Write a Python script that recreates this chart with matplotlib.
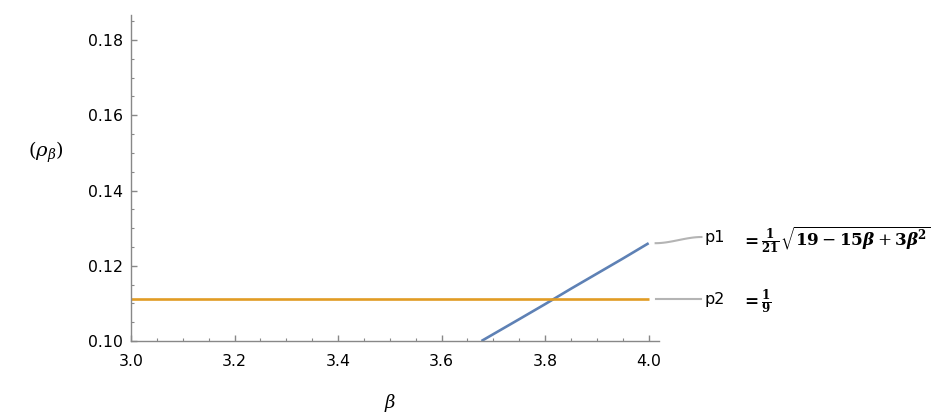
import numpy as np
import matplotlib
matplotlib.use("Agg")
import matplotlib.pyplot as plt
from matplotlib.ticker import MultipleLocator, FormatStrFormatter

# ---- data ----
beta_p1 = [3.677, 3.75, 3.80, 3.85, 3.90, 3.95, 4.00]
rho_p1 = [0.1000, 0.1058, 0.1098, 0.1139, 0.1179, 0.1219, 0.1260]
beta_p2 = [3.0, 4.0]
rho_p2 = [0.1111, 0.1111]
series_names = ["p1", "p2"]
series_formulas = [
    r"$\mathbf{=}\frac{\mathbf{1}}{\mathbf{21}}\sqrt{\mathbf{19}-\mathbf{15}\boldsymbol{\beta}+\mathbf{3}\boldsymbol{\beta}^{\mathbf{2}}}$",
    r"$\mathbf{=}\frac{\mathbf{1}}{\mathbf{9}}$",
]
x_label = r"$\beta$"
y_label = r"$(\rho_{\beta})$"

BLUE = "#5E81B5"
ORANGE = "#E19C24"
AXC = "#888888"
plt.rcParams["mathtext.fontset"] = "dejavuserif"
plt.rcParams["font.family"] = ["DejaVu Sans"]

fig = plt.figure(figsize=(9.4, 4.16), dpi=100)
ax = fig.add_axes([131 / 940, 1 - 341 / 416, (659 - 131) / 940, (341 - 15) / 416])

ax.plot(beta_p1, rho_p1, color=BLUE, lw=1.9, solid_capstyle="butt")
ax.plot(beta_p2, rho_p2, color=ORANGE, lw=1.9, solid_capstyle="butt")

ax.set_xlim(3.0, 4.02)
ax.set_ylim(0.10, 0.18665)

for s in ["top", "right"]:
    ax.spines[s].set_visible(False)
for s in ["left", "bottom"]:
    ax.spines[s].set_color(AXC)
    ax.spines[s].set_linewidth(1.0)

ax.xaxis.set_major_locator(MultipleLocator(0.2))
ax.xaxis.set_minor_locator(MultipleLocator(0.05))
ax.yaxis.set_major_locator(MultipleLocator(0.02))
ax.yaxis.set_minor_locator(MultipleLocator(0.005))
ax.xaxis.set_major_formatter(FormatStrFormatter("%.1f"))
ax.yaxis.set_major_formatter(FormatStrFormatter("%.2f"))
ax.tick_params(which="major", direction="in", length=4.3, width=1.0, color=AXC,
               labelsize=11.3, labelcolor="black")
ax.tick_params(which="minor", direction="in", length=2.5, width=0.8, color=AXC)
ax.tick_params(axis="y", which="major", pad=6)
ax.tick_params(axis="x", which="major", pad=9.5)

fig.text(46 / 940, 1 - 152 / 416, y_label, ha="center", va="center", fontsize=14)
fig.text(390 / 940, 1 - 403 / 416, x_label, ha="center", va="center", fontsize=13)

# ---- labels with connector lines ----
label_y = [0.12764, rho_p2[-1]]
ends = [(beta_p1[-1], rho_p1[-1]), (beta_p2[-1], rho_p2[-1])]
for (xe, ye), ly, name, formula in zip(ends, label_y, series_names, series_formulas):
    x0, x1 = xe + 0.0135, xe + 0.102
    t = np.linspace(0, 1, 40)
    s = t * t * (3 - 2 * t)
    ax.plot(x0 + (x1 - x0) * t, ye + (ly - ye) * s, color="#B4B4B4", lw=1.5,
            clip_on=False)
    ax.text(xe + 0.108, ly, name, ha="left", va="center", fontsize=11.5,
            clip_on=False)
    ax.text(xe + 0.178, ly - 0.0008, formula, ha="left", va="center",
            fontsize=12.2, clip_on=False)

fig.savefig("out.png", dpi=100)
